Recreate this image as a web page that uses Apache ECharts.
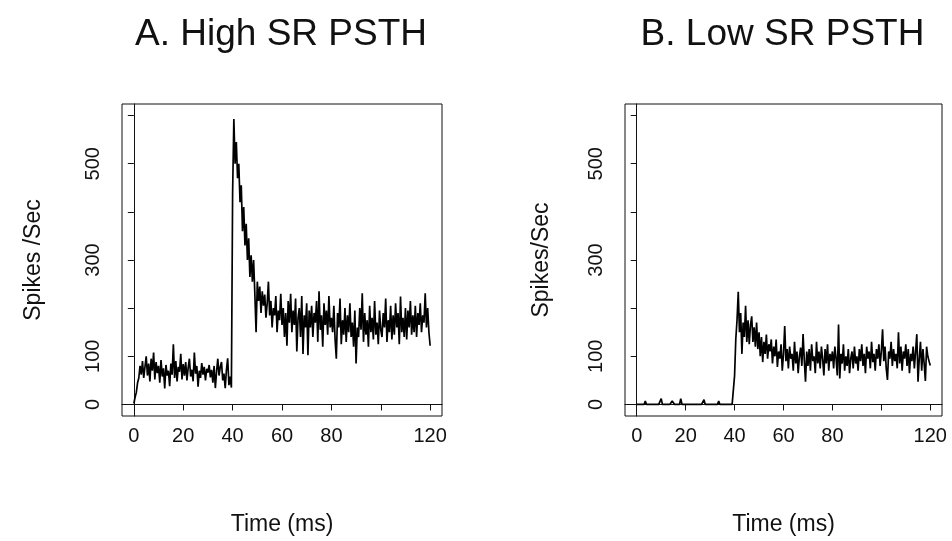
<!DOCTYPE html>
<html>
<head>
<meta charset="utf-8">
<script src="https://cdn.jsdelivr.net/npm/echarts@6/dist/echarts.min.js"></script>
<style>
html,body{margin:0;padding:0;background:#fff;}
#chart{width:952px;height:541px;}
</style>
</head>
<body>
<div id="chart"></div>
<script>
// ---- data ----
const binMs = 0.5; // bin width of the PSTH, ms (time of bin i = i * binMs)
const titles = ['A. High SR PSTH', 'B. Low SR PSTH'];
const yNames = ['Spikes /Sec', 'Spikes/Sec'];
const xName = 'Time (ms)';
const xTicks = [0, 20, 40, 60, 80, 100, 120];
const xTickLabels = [0, 20, 40, 60, 80, 120];
const yTicks = [0, 100, 200, 300, 400, 500, 600];
const yTickLabels = [0, 100, 300, 500];

const highSR = [
  2, 15, 25, 45, 55, 80, 62,
  90, 55, 78, 100, 60, 85, 48, 95, 70, 108, 52, 88, 65, 80,
  45, 92, 58, 75, 33, 82, 60, 70, 38, 85, 62, 125, 55, 90, 48, 78, 68, 105, 52, 84,
  60, 88, 50, 76, 95, 58, 72, 48, 108, 64, 80, 37, 70, 55, 86, 62, 78, 50, 74, 66,
  82, 56, 72, 45, 80, 34, 68, 95, 60, 78, 88, 50, 64, 34, 72, 96, 40, 58, 35,
  440,
  593, 500, 545, 470, 500, 420, 455, 360, 410, 330,
  375, 300, 345, 265, 310, 255, 300, 230, 150, 255,
  215, 245, 190, 235, 205, 228, 180, 210, 255, 185,
  215, 160, 200, 185, 225, 150, 195, 175, 230, 165,
  200, 140, 190, 122, 215, 170, 230, 150, 195, 165, 220, 110, 180, 200, 140, 225, 105, 185, 160, 210,
  102, 195, 160, 205, 140, 190, 170, 215, 130, 235, 155, 185, 120, 210, 165, 195, 145, 225, 160, 180,
  150, 205, 135, 95, 190, 160, 220, 125, 175, 145, 200, 130, 185, 150, 210, 140, 170, 120, 195, 85,
  160, 140, 200, 155, 231, 130, 190, 145, 175, 120, 205, 150, 180, 135, 215, 145, 170, 125, 195, 155,
  140, 190, 160, 220, 130, 175, 150, 205, 135, 185, 145, 210, 160, 190, 125, 224, 150, 180, 140, 200,
  135, 195, 160, 215, 145, 185, 150, 205, 140, 190, 165, 210, 150, 185, 170, 231, 160, 200, 150, 122
];

const lowSR = [
  0, 0, 0, 0, 0, 0, 0, 7, 0, 0,
  0, 0, 0, 0, 0, 0, 0, 0, 0, 0,
  12, 0, 0, 0, 0, 0, 0, 0, 0, 7,
  7, 0, 0, 0, 0, 0, 12, 0, 0, 0,
  0, 0, 0, 0, 0, 0, 0, 0, 0, 0,
  0, 0, 0, 0, 0, 10, 0, 0, 0, 0,
  0, 0, 0, 0, 0, 0, 0, 7, 0, 0,
  0, 0, 0, 0, 0, 0, 0, 0, 0, 0,
  60,
  136, 175, 234, 150, 190, 105, 170, 140, 205, 130,
  175, 125, 165, 183, 130, 160, 120, 170, 115, 150,
  100, 140, 88, 130, 105, 145, 95, 125, 110, 135,
  85, 120, 100, 135, 78, 110, 95, 125, 70, 105,
  163, 90, 115, 75, 120, 95, 105, 70, 130, 85, 110, 65, 100, 118, 80, 146, 92, 47, 110, 80,
  115, 70, 125, 90, 100, 65, 130, 85, 110, 75, 120, 95, 60, 115, 85, 125, 70, 105, 90, 110,
  75, 120, 95, 60, 166, 54, 105, 85, 125, 70, 100, 80, 115, 65, 95, 110, 75, 120, 85, 100,
  70, 115, 90, 125, 80, 105, 65, 120, 95, 110, 75, 130, 88, 105, 70, 115, 95, 125, 80, 110,
  156, 90, 120, 75, 51, 110, 95, 130, 80, 115, 90, 105, 75, 150, 85, 120, 70, 110, 95, 125,
  80, 115, 65, 105, 90, 120, 75, 110, 146, 47, 95, 130, 70, 115, 85, 49, 120, 100, 90, 81
];

// ---- chart ----
const FONT = '"Liberation Sans", Arial, Helvetica, sans-serif';
const INK = '#111';
const toPairs = arr => arr.map((v, i) => [i * binMs, v]);

const grids = [
  {left: 122, top: 104, width: 320, height: 318},
  {left: 625, top: 104, width: 317, height: 319}
];
const nameGaps = [77, 72];

const chart = echarts.init(document.getElementById('chart'), null, {renderer: 'canvas'});
chart.setOption({
  backgroundColor: '#fff',
  animation: false,
  title: titles.map((t, i) => ({
    text: t,
    left: grids[i].left + grids[i].width / 2 - 6,
    textAlign: 'center',
    top: 11,
    textStyle: {fontFamily: FONT, fontSize: 37, fontWeight: 'normal', color: INK}
  })),
  grid: grids.map(g => Object.assign({
    show: true, borderColor: INK, borderWidth: 1, backgroundColor: 'transparent', containLabel: false
  }, g)),
  xAxis: grids.map((g, i) => ({
    type: 'value', gridIndex: i, min: -4.8, max: 124.8,
    name: xName, nameLocation: 'middle', nameGap: 97,
    nameTextStyle: {fontFamily: FONT, fontSize: 23, color: INK},
    axisLine: {show: true, lineStyle: {color: INK, width: 1}},
    axisTick: {show: true, length: 6, inside: false, customValues: xTicks, lineStyle: {color: INK}},
    axisLabel: {show: true, customValues: xTickLabels, margin: 10, fontFamily: FONT, fontSize: 20, color: INK},
    splitLine: {show: false}
  })),
  yAxis: grids.map((g, i) => ({
    type: 'value', gridIndex: i, min: -24, max: 624,
    name: yNames[i], nameLocation: 'middle', nameGap: nameGaps[i], nameRotate: 90,
    nameTextStyle: {fontFamily: FONT, fontSize: 23, color: INK},
    axisLine: {show: true, lineStyle: {color: INK, width: 1}},
    axisTick: {show: true, length: 6, inside: false, customValues: yTicks, lineStyle: {color: INK}},
    axisLabel: {show: true, customValues: yTickLabels, rotate: 90, margin: 19, fontFamily: FONT, fontSize: 20, color: INK},
    splitLine: {show: false}
  })),
  series: [highSR, lowSR].map((arr, i) => ({
    type: 'line', xAxisIndex: i, yAxisIndex: i,
    data: toPairs(arr), showSymbol: false, symbol: 'none',
    lineStyle: {color: '#000', width: 1.7}, clip: true
  }))
});
</script>
</body>
</html>
